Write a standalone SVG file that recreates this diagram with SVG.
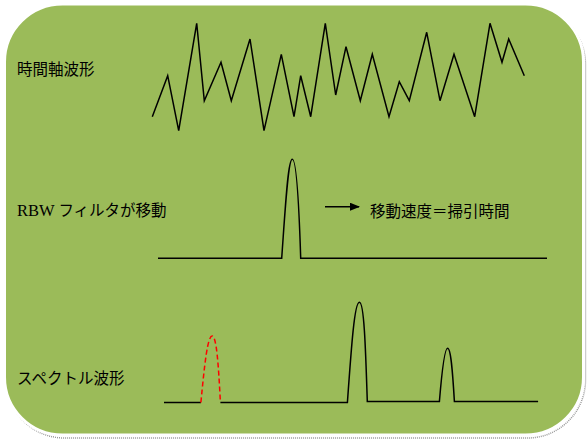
<svg xmlns="http://www.w3.org/2000/svg" width="588" height="443" viewBox="0 0 588 443">
<style>
.lbl{font-family:"Noto Sans CJK JP","Liberation Sans",sans-serif;font-size:15.5px;fill:#000}
.ser{font-family:"Liberation Serif",serif}
.wave{fill:none;stroke:#000;stroke-width:1.5;stroke-linejoin:miter}
.red{fill:none;stroke:#ff0000;stroke-width:1.5;stroke-dasharray:5 3}
</style>
<defs>
<marker id="ah" markerWidth="10" markerHeight="8" refX="9" refY="4" orient="auto" markerUnits="userSpaceOnUse">
<path d="M0,0 L10,4 L0,8 Z" fill="#000"/>
</marker>
</defs>
<g id="background">
<rect x="6.5" y="6.5" width="579" height="431.5" rx="58" fill="none" stroke="#9a9a9a" stroke-width="1.5" stroke-dasharray="1 1"/>
<rect x="4.5" y="4" width="579" height="431" rx="58" fill="#9BBB59" stroke="#ffffff" stroke-width="3"/>
</g>
<g id="time-waveform">
<text class="lbl" x="17" y="75">時間軸波形</text>
<polyline class="wave" points="152.3,116.7 167.7,75.7 178.7,130.7 196.7,23.3 204.3,100.7 221,62.3 231.3,100.7 250,39 264,130.7 281.3,54.3 294,116.7 300.7,75.7 310.7,116.7 325.3,23.3 335.7,95 346,46.7 360.3,100.7 372.3,54.3 389,116.7 399.3,81.7 409.3,100.7 426.7,32.3 440,100.7 454,54.3 474.7,116.7 490,23.3 502,62.3 508.7,39 524.3,75.7"/>
</g>
<g id="rbw-filter">
<text class="lbl" x="17" y="216"><tspan class="ser" font-size="16.5">RBW </tspan>フィルタが移動</text>
<path class="wave" d="M158,258.3 L281.7,258.3 C285.5,205 288,159.3 292.3,159.3 C296.6,159.3 299,205 300.7,258.3 L547,258.3"/>
</g>
<g id="sweep-label">
<text class="lbl" x="370" y="217">移動速度＝掃引時間</text>
</g>
<g id="spectrum">
<text class="lbl" x="17" y="384">スペクトル波形</text>
<path class="wave" d="M164,402.5 L200.9,402.5"/>
<path class="red" d="M200.9,402.5 C204.5,365 207.5,336 212.2,336 C216.5,336 218.5,365 220.4,402.5"/>
<path class="wave" d="M220.4,402.5 L347.4,402.5 C351.5,345 354.5,302.3 359.4,302.3 C364,302.3 365.5,345 367.3,401.5 L439.4,401.5 C442,370 444.5,348.3 447.6,348.3 C450.8,348.3 452.5,370 454.4,401.5 L538.1,401.5"/>
</g>
<g id="connectors">
<line x1="325" y1="206.7" x2="359" y2="206.7" stroke="#000" stroke-width="1.5" marker-end="url(#ah)"/>
</g>
</svg>
